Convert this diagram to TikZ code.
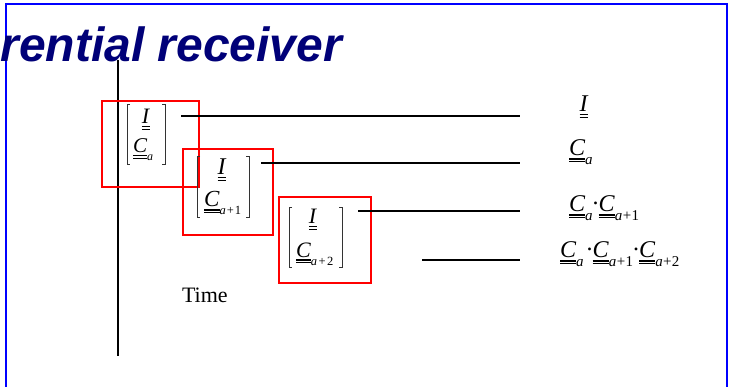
\documentclass[tikz,border=0pt]{standalone}
\usepackage{fontspec}
\setmainfont{Liberation Serif}
\newfontfamily\titlefont{Liberation Sans}
\newbox\dulbox
\newcommand\dul[1]{\setbox\dulbox\hbox{#1}\vtop{\copy\dulbox\kern1.8pt\hrule width\wd\dulbox height1.5pt\kern1.3pt\hrule width\wd\dulbox height1.5pt}}
% subscript: size, drop, text
\newcommand\sbs[3]{\raisebox{-#2pt}{\fontsize{#1}{#1}\selectfont #3}}
\newcommand\pl[1]{\kern#1pt+\kern#1pt}
\newcommand\mC{\dul{\textit{C}}}
\newcommand\mI{\dul{\textit{I}}}
\newcommand\cdotx{\raisebox{0.3em}{.}}
\definecolor{navy}{RGB}{0,0,120}
\tikzset{
  frame/.style={draw=blue, line width=1.8pt},
  redbox/.style={draw=red, line width=1.7pt},
  wire/.style={draw=black, line width=1.6pt},
  brk/.style={draw=black!80, line width=0.9pt},
  txt/.style={inner sep=0pt, outer sep=0pt, text=black},
}
\begin{document}
\begin{tikzpicture}[x=1pt,y=-1pt]
\useasboundingbox (0,0) rectangle (730,387);
\clip (0,0) rectangle (730,387);
% frame
\draw[frame] (6,395) -- (6,4) -- (727,4) -- (727,395);
% title
\node[txt, anchor=base east, text=navy, font=\titlefont\bfseries\itshape\fontsize{48}{50}\selectfont] (title) at (342,62) {Differential receiver};
% time axis
\coordinate (axT) at (118,60);
\coordinate (axB) at (118,356);
\draw[wire] (axT) -- (axB);
% red boxes
\node[redbox, minimum width=97pt, minimum height=86pt, anchor=north west, inner sep=0pt] (box1) at (101,100) {};
\node[redbox, minimum width=90pt, minimum height=86pt, anchor=north west, inner sep=0pt] (box2) at (182,148) {};
\node[redbox, minimum width=92pt, minimum height=86pt, anchor=north west, inner sep=0pt] (box3) at (278,196) {};
% matrix 1
\node[txt, anchor=base, font=\fontsize{22}{22}\selectfont] (i1) at (146,124) {\mI};
\node[txt, anchor=base west, font=\fontsize{21}{22}\selectfont] (c1) at (133,153) {\mC\sbs{12}{8}{\textit{a}}};
\draw[brk] (130,104) -- (127,104) -- (127,164) -- (130,164);
\draw[brk] (162,104) -- (165,104) -- (165,164) -- (162,164);
% matrix 2
\node[txt, anchor=base, font=\fontsize{24}{24}\selectfont] (i2) at (222,175) {\mI};
\node[txt, anchor=base west, font=\fontsize{23}{24}\selectfont] (c2) at (204,207) {\mC\sbs{12.5}{8}{\textit{a}\pl{1}1}};
\draw[brk] (200,156) -- (197,156) -- (197,217) -- (200,217);
\draw[brk] (246,156) -- (249,156) -- (249,217) -- (246,217);
% matrix 3
\node[txt, anchor=base, font=\fontsize{22}{22}\selectfont] (i3) at (313,224) {\mI};
\node[txt, anchor=base west, font=\fontsize{22}{22}\selectfont] (c3) at (296,257) {\mC\sbs{12.5}{8}{\textit{a}\pl{1.5}2}};
\draw[brk] (292,207) -- (289,207) -- (289,267) -- (292,267);
\draw[brk] (339,207) -- (342,207) -- (342,267) -- (339,267);
% right labels
\node[txt, anchor=base, font=\fontsize{24}{25}\selectfont] (r1) at (584,112) {\mI};
\node[txt, anchor=base west, font=\fontsize{24}{25}\selectfont] (r2) at (569,156) {\mC\sbs{15}{9}{\textit{a}}};
\node[txt, anchor=base west, font=\fontsize{24}{25}\selectfont] (r3) at (569,212) {\mC\sbs{15}{9}{\textit{a}}\cdotx\mC\sbs{15}{9}{\textit{a}\pl{0.3}1}};
\node[txt, anchor=base west, font=\fontsize{24}{25}\selectfont] (r4) at (560,258) {\mC\sbs{15}{9}{\textit{a}}\kern3pt\cdotx\mC\sbs{15}{9}{\textit{a}\pl{0.3}1}\cdotx\mC\sbs{15}{9}{\textit{a}\pl{0.3}2}};
% wires
\coordinate (w1a) at (181,116); \coordinate (w1b) at (520,116);
\coordinate (w2a) at (261,163); \coordinate (w2b) at (520,163);
\coordinate (w3a) at (358,211); \coordinate (w3b) at (520,211);
\coordinate (w4a) at (422,260); \coordinate (w4b) at (520,260);
\draw[wire] (w1a) -- (w1b);
\draw[wire] (w2a) -- (w2b);
\draw[wire] (w3a) -- (w3b);
\draw[wire] (w4a) -- (w4b);
% time label
\node[txt, anchor=base west, font=\fontsize{22}{24}\selectfont] (time) at (182,302) {Time};
\end{tikzpicture}
\end{document}
